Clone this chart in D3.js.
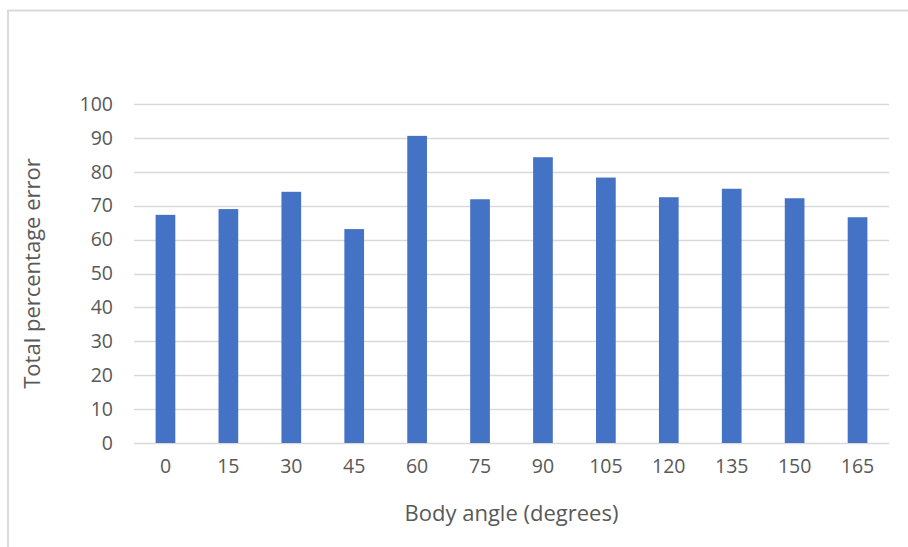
<!DOCTYPE html>
<html>
<head>
<meta charset="utf-8">
<script src="https://cdn.jsdelivr.net/npm/d3@7"></script>
<style>
  html, body { margin: 0; padding: 0; background: #fff; }
  svg { display: block; }
</style>
</head>
<body>
<div id="chart"></div>
<script>
const categories = ["0","15","30","45","60","75","90","105","120","135","150","165"];
const values = [67.3, 69.0, 74.1, 63.1, 90.6, 71.9, 84.3, 78.3, 72.5, 75.0, 72.2, 66.6];
const yTicks = [0,10,20,30,40,50,60,70,80,90,100];
const xTitle = "Body angle (degrees)";
const yTitle = "Total percentage error";

const W = 908, H = 547;
const plot = { left: 134, right: 889, top: 104, bottom: 443 };
const font = "'Open Sans', 'Noto Sans', sans-serif";
const textColor = "#595959";

const svg = d3.select("#chart").append("svg").attr("width", W).attr("height", H);

// chart area border (extends past right/bottom edge)
svg.append("rect")
  .attr("x", 8).attr("y", 10.5)
  .attr("width", W + 20).attr("height", H + 20)
  .attr("fill", "#fff").attr("stroke", "#d9d9d9").attr("stroke-width", 2);

const x = d3.scaleBand()
  .domain(categories)
  .range([plot.left, plot.right])
  .paddingInner(0.687)
  .paddingOuter(0.3435);

const y = d3.scaleLinear().domain([0, 100]).range([plot.bottom, plot.top]);

// gridlines
svg.append("g")
  .selectAll("line")
  .data(yTicks)
  .join("line")
  .attr("x1", plot.left).attr("x2", plot.right)
  .attr("y1", d => Math.round(y(d)) + 0.5).attr("y2", d => Math.round(y(d)) + 0.5)
  .attr("stroke", "#d9d9d9").attr("stroke-width", 1.5);

// bars
svg.append("g")
  .selectAll("rect")
  .data(values)
  .join("rect")
  .attr("x", (d, i) => x(categories[i]))
  .attr("width", x.bandwidth())
  .attr("y", d => y(d))
  .attr("height", d => y(0) - y(d))
  .attr("fill", "#4472c4");

// y axis
const yAxis = d3.axisLeft(y).tickValues(yTicks).tickSize(0).tickPadding(0);
const gy = svg.append("g").attr("transform", `translate(${plot.left - 21},0)`).call(yAxis);
gy.select(".domain").remove();
gy.selectAll("text").attr("font-family", font).attr("font-size", 19.5).attr("fill", textColor);

// x axis
const xAxis = d3.axisBottom(x).tickSize(0).tickPadding(0);
const gx = svg.append("g").attr("transform", `translate(0,${plot.bottom + 16})`).call(xAxis);
gx.select(".domain").remove();
gx.selectAll("text").attr("font-family", font).attr("font-size", 19.5).attr("fill", textColor);

// axis titles
svg.append("text")
  .attr("x", (plot.left + plot.right) / 2)
  .attr("y", 521)
  .attr("text-anchor", "middle")
  .attr("font-family", font).attr("font-size", 22).attr("fill", textColor)
  .text(xTitle);

svg.append("text")
  .attr("transform", `translate(40,${(plot.top + plot.bottom) / 2}) rotate(-90)`)
  .attr("text-anchor", "middle")
  .attr("font-family", font).attr("font-size", 22).attr("fill", textColor)
  .text(yTitle);
</script>
</body>
</html>
